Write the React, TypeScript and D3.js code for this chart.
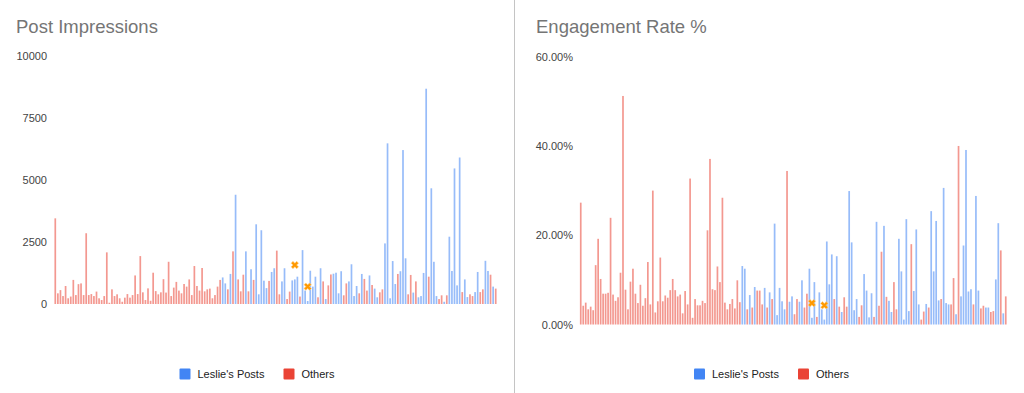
import React from "react";
import * as d3 from "d3";

// one letter per post, in posting order: L = Leslie's Posts, O = Others
const postOwner = (
  "OOOOOOOOOOOOOOOOOOOOOOOOOOOOOOOOOOOOOOOOOOOOOOOOOOOOOOOOOOOOOOOOO" +
  "LLOLOLOOOL" + "OLOLLLLLOL" + "LOOLLOOLLL" + "OLLLLLLOLO" + "LOOLLLLOOL" +
  "LLLOLOOLOL" + "LOOLLLLLOL" + "LLOOLOLLLL" + "OLLLOOLOLL" + "LLLOLLOOLL" + "OOLLOLO"
).split("");

const impressions = [
  3450, 430, 560, 320, 725, 230, 300, 970, 360, 800,
  830, 360, 2850, 360, 400, 320, 500, 230, 160, 320,
  2080, 50, 590, 320, 390, 230, 90, 255, 400, 255,
  360, 1150, 400, 1930, 470, 160, 630, 130, 1260, 520,
  390, 470, 1000, 460, 1700, 320, 660, 890, 540, 430,
  805, 700, 990, 360, 1530, 725, 540, 1450, 510, 590,
  620, 230, 360, 700, 970,
  1070, 830, 590, 1210, 2120, 4400, 990, 510, 1180, 2120,
  510, 1400, 970, 3210, 390, 2970, 940, 640, 930, 1290,
  1440, 2150, 390, 910, 1440, 200, 500, 950, 990, 1100,
  300, 2170, 540, 120, 1340, 700, 1100, 270, 1440, 910,
  200, 750, 1190, 1220, 1260, 430, 1320, 350, 830, 910,
  1600, 320, 725, 430, 1210, 1010, 540, 1150, 765, 620,
  270, 470, 590, 2440, 6470, 230, 1730, 805, 1210, 1320,
  6200, 1840, 390, 1170, 460, 910, 270, 320, 1250, 8670,
  1100, 4660, 1700, 320, 200, 350, 90, 350, 2710, 1330,
  5460, 750, 5900, 480, 990, 280, 390, 320, 480, 1290,
  480, 590, 1740, 1330, 1180, 700, 620,
];

const engagementRate = [
  27.3, 4.2, 4.9, 3.4, 4.0, 3.2, 13.3, 19.2, 10.2, 6.9,
  6.9, 7.1, 23.9, 6.7, 5.3, 6.1, 11.6, 51.2, 7.8, 3.4,
  9.6, 12.5, 6.9, 4.8, 8.9, 4.2, 5.9, 14.0, 4.5, 30.0,
  2.7, 5.2, 15.0, 5.2, 6.5, 6.0, 7.7, 10.2, 7.7, 6.3,
  6.7, 2.5, 7.5, 4.5, 32.7, 1.5, 5.7, 4.3, 4.3, 5.3,
  4.8, 21.1, 37.1, 7.9, 7.7, 13.0, 9.5, 28.4, 4.9, 3.4,
  4.6, 5.7, 3.6, 9.9, 5.0,
  13.1, 12.5, 3.4, 6.6, 3.8, 8.4, 7.6, 7.6, 4.5, 8.2,
  3.8, 7.2, 5.7, 22.6, 2.1, 8.2, 5.2, 3.4, 34.4, 5.1,
  6.3, 2.3, 5.7, 5.1, 9.9, 3.8, 6.9, 12.5, 1.5, 9.5,
  1.7, 7.2, 3.4, 1.1, 18.6, 9.0, 15.7, 5.7, 15.3, 4.0,
  2.8, 6.1, 4.0, 29.9, 18.4, 3.2, 5.7, 1.7, 4.3, 11.3,
  7.6, 1.6, 7.0, 1.7, 23.0, 4.2, 16.3, 22.1, 6.2, 5.3,
  2.8, 9.5, 3.4, 19.2, 11.9, 1.1, 23.6, 3.0, 18.0, 7.5,
  21.3, 4.5, 1.1, 2.9, 4.6, 3.8, 25.4, 11.9, 23.2, 5.4,
  5.7, 30.6, 4.8, 4.5, 4.5, 10.4, 2.3, 40.0, 6.3, 17.7,
  39.1, 7.4, 7.9, 4.5, 28.8, 7.6, 3.6, 4.2, 3.8, 3.8,
  2.8, 3.0, 10.1, 22.7, 16.6, 2.5, 6.3,
];

// the two orange markers (post index, 0-based)
const highlightPosts = [93, 98];
const highlightImpressions = [1570, 700];
const highlightRate = [4.8, 4.3];

const impressionTicks = [0, 2500, 5000, 7500, 10000];
const rateTicks = [0, 20, 40, 60];

const seriesNames = ["Leslie's Posts", "Others"];
const seriesColors = { L: "#4285F4", O: "#EA4335" };

const FONT = "'Liberation Sans', Arial, sans-serif";

const Panel = (props) => {
  const x = d3.scalePoint()
    .domain(d3.range(props.values.length))
    .range(props.xRange)
    .padding(0.5);
  const y = d3.scaleLinear().domain([0, props.yMax]).range(props.yRange);
  const marker = d3.symbol().type(d3.symbolCross).size(34)();

  return (
    <g>
      <text x={props.titleX} y={33} fontSize={18.5} fill="#757575" fontFamily={FONT}>
        {props.title}
      </text>

      {props.ticks.map(t => (
        <text key={t} x={props.labelX} y={y(t) + 4} textAnchor="end"
          fontSize={11} fill="#444" fontFamily={FONT}>
          {props.format(t)}
        </text>
      ))}

      {props.values.map((v, i) => (
        <rect key={i}
          x={x(i) - 0.85} width={1.7}
          y={y(v)} height={y(0) - y(v)}
          fill={seriesColors[postOwner[i]]} fillOpacity={0.55} />
      ))}

      {highlightPosts.map((p, k) => (
        <path key={p} d={marker}
          transform={`translate(${x(p)},${y(props.highlights[k])}) rotate(45)`}
          fill="#FF9900" stroke="#FFD18A" strokeWidth={0.6} />
      ))}

      {seriesNames.map((name, k) => {
        const lx = props.legendX + k * 104;
        return (
          <g key={name}>
            <rect x={lx} y={368.5} width={11} height={11} rx={1}
              fill={k === 0 ? seriesColors.L : seriesColors.O} />
            <text x={lx + 18} y={378} fontSize={11} fill="#222" fontFamily={FONT}>
              {name}
            </text>
          </g>
        );
      })}
    </g>
  );
};

export default function App() {
  return (
    <svg width={1024} height={393}
      style={{ position: "absolute", left: 0, top: 0, background: "#fff" }}>
      <rect width={1024} height={393} fill="#fff" />
      <Panel
        title="Post Impressions" titleX={16}
        values={impressions} yMax={10000}
        ticks={impressionTicks} format={d => String(d)}
        xRange={[54, 497]} yRange={[304, 55.7]} labelX={47}
        legendX={179.5} highlights={highlightImpressions} />
      <Panel
        title="Engagement Rate %" titleX={536}
        values={engagementRate} yMax={60}
        ticks={rateTicks} format={d => d3.format(".2f")(d) + "%"}
        xRange={[579.5, 1007]} yRange={[324.5, 56.7]} labelX={573}
        legendX={694} highlights={highlightRate} />
      <line x1={514.5} x2={514.5} y1={0} y2={393} stroke="#c4c4c4" />
    </svg>
  );
}
